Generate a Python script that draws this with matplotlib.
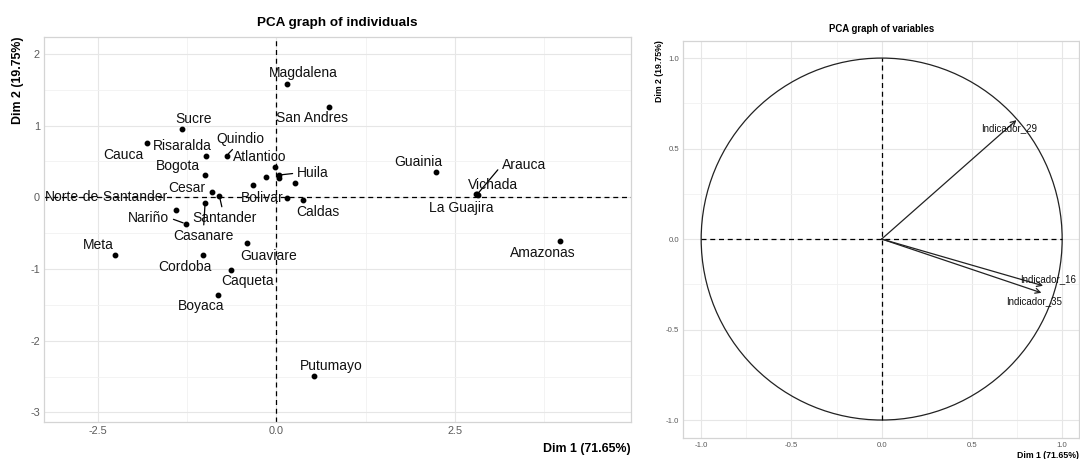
"""
PCA plots for the departmental indicators: individuals map and correlation circle.
"""

import numpy as np
import matplotlib.pyplot as plt
from matplotlib.patches import Circle

plt.rcParams['font.family'] = ['Liberation Sans', 'DejaVu Sans']
plt.rcParams['axes.unicode_minus'] = False

# Individuals (departments) on the first two components
departments = [
    'Magdalena', 'San Andres', 'Sucre', 'Cauca', 'Risaralda', 'Quindio',
    'Atlantico', 'Bogota', 'Huila', 'Cesar', 'Norte-de-Santander', 'Santander',
    'Bolivar', 'Caldas', 'Casanare', 'Nariño', 'Meta', 'Cordoba', 'Guaviare',
    'Caqueta', 'Boyaca', 'Putumayo', 'Amazonas', 'Guainia', 'Arauca',
    'Vichada', 'La Guajira', '', '', '', '',
]
dim1 = [
    0.15, 0.73, -1.32, -1.81, -0.99, -0.70,
    -0.02, -1.00, 0.03, -0.91, -1.41, -0.80,
    0.15, 0.37, -1.00, -1.27, -2.26, -1.03, -0.41,
    -0.64, -0.82, 0.53, 3.97, 2.23, 2.81,
    2.80, 2.82, 0.04, -0.15, -0.33, 0.26,
]
dim2 = [
    1.58, 1.26, 0.95, 0.76, 0.58, 0.58,
    0.42, 0.31, 0.31, 0.07, -0.18, 0.02,
    -0.01, -0.04, -0.08, -0.37, -0.80, -0.80, -0.64,
    -1.02, -1.36, -2.49, -0.61, 0.35, 0.04,
    0.05, 0.03, 0.27, 0.29, 0.17, 0.20,
]

# Variables: coordinates on the correlation circle
variables = ['Indicador_29', 'Indicador_16', 'Indicador_35']
var_dim1 = [0.747, 0.894, 0.885]
var_dim2 = [0.657, -0.258, -0.297]

DIM1_LABEL = 'Dim 1 (71.65%)'
DIM2_LABEL = 'Dim 2 (19.75%)'

# Label placement (pixel offsets from each point) and leader segments
LABEL_OFFSETS = {
    'Magdalena': (16.5, 11), 'San Andres': (-17, -11), 'Sucre': (11, 10),
    'Cauca': (-24, -12), 'Risaralda': (-23, 10), 'Quindio': (14, 17),
    'Atlantico': (-15, 10), 'Bogota': (-27, 9), 'Huila': (34, 2),
    'Cesar': (-25, 4), 'Norte-de-Santander': (-69, 13), 'Santander': (5, -22),
    'Bolivar': (-25, 0), 'Caldas': (15, -12), 'Casanare': (-2, -33),
    'Nariño': (-37, 6), 'Meta': (-17, 10), 'Cordoba': (-18, -12),
    'Guaviare': (21, -13), 'Caqueta': (16.5, -11), 'Boyaca': (-17, -11),
    'Putumayo': (16.5, 10), 'Amazonas': (-17.5, -11.6), 'Guainia': (-17, 10),
    'Arauca': (46.5, 29), 'Vichada': (16.5, 9), 'La Guajira': (-17, -13),
}
SEGMENTS = {
    'Quindio': (0.45, 0.15), 'Huila': (0.0, 0.5), 'Santander': (0.5, 0.5),
    'Casanare': (0.5, 0.5), 'Nariño': (1.0, 0.5), 'Arauca': (0.0, 0.5),
}
VAR_LABELS = {
    'Indicador_29': (0.705, 0.612),
    'Indicador_16': (0.923, -0.221),
    'Indicador_35': (0.843, -0.343),
}

TICK_COLOR = '#5a5a5a'
GRID_MAJOR = '#e6e6e6'
GRID_MINOR = '#f1f1f1'
BORDER = '#d4d4d4'


def style_panel(ax, tick_size):
    """ggplot-like minimal theme with a light panel border."""
    ax.set_axisbelow(True)
    ax.grid(True, which='major', color=GRID_MAJOR, linewidth=0.8)
    ax.grid(True, which='minor', color=GRID_MINOR, linewidth=0.6)
    ax.tick_params(which='both', length=0, labelsize=tick_size,
                   labelcolor=TICK_COLOR, pad=3)
    for spine in ax.spines.values():
        spine.set_color(BORDER)
        spine.set_linewidth(0.9)


fig = plt.figure(figsize=(10.8, 4.59), dpi=100)
W, H = 1080, 459

# ---- individuals ----
ax1 = fig.add_axes([44 / W, 1 - 422 / H, (631 - 44) / W, (422 - 37) / H])
ax1.set_xlim(-3.256, 4.965)
ax1.set_ylim(-3.134, 2.236)
ax1.set_xticks([-2.5, 0.0, 2.5])
ax1.set_xticklabels(['-2.5', '0.0', '2.5'])
ax1.set_xticks([-1.25, 1.25, 3.75], minor=True)
ax1.set_yticks([-3, -2, -1, 0, 1, 2])
ax1.set_yticks([-2.5, -1.5, -0.5, 0.5, 1.5], minor=True)
style_panel(ax1, 7.8)

ax1.axhline(0, color='black', linestyle=(0, (4, 3)), linewidth=0.9, zorder=2)
ax1.axvline(0, color='black', linestyle=(0, (4, 3)), linewidth=0.9, zorder=2)
ax1.plot(dim1, dim2, 'o', color='black', markersize=3.2, zorder=3)

for name, x, y in zip(departments, dim1, dim2):
    if not name:
        continue
    dx, dy = LABEL_OFFSETS[name]
    arrow = None
    if name in SEGMENTS:
        arrow = dict(arrowstyle='-', color='black', lw=0.9,
                     shrinkA=1, shrinkB=2, relpos=SEGMENTS[name])
    ax1.annotate(name, xy=(x, y), xytext=(dx, dy), textcoords='offset pixels',
                 ha='center', va='center', fontsize=10, color='#111111',
                 arrowprops=arrow, zorder=4)

ax1.set_title('PCA graph of individuals', fontsize=9.7, fontweight='bold', pad=8)
fig.text(631 / W, 1 - 449 / H, DIM1_LABEL, ha='right', va='center',
         fontsize=8.9, fontweight='bold')
fig.text(18 / W, 1 - 37 / H, DIM2_LABEL, ha='center', va='top', rotation=90,
         fontsize=8.9, fontweight='bold')

# ---- variables ----
ax2 = fig.add_axes([683.3 / W, 1 - 438.3 / H, (1079.3 - 683.3) / W, (438.3 - 40.7) / H])
ax2.set_xlim(-1.099, 1.095)
ax2.set_ylim(-1.101, 1.096)
ticks = [-1.0, -0.5, 0.0, 0.5, 1.0]
ax2.set_xticks(ticks)
ax2.set_yticks(ticks)
ax2.set_xticklabels([f'{t:.1f}' for t in ticks])
ax2.set_yticklabels([f'{t:.1f}' for t in ticks])
ax2.set_xticks([-0.75, -0.25, 0.25, 0.75], minor=True)
ax2.set_yticks([-0.75, -0.25, 0.25, 0.75], minor=True)
style_panel(ax2, 5.6)

ax2.add_patch(Circle((0, 0), 1.0, fill=False, color='#222222', linewidth=0.9))
ax2.plot([-1, 1], [0, 0], color='black', linestyle=(0, (4, 3)), linewidth=0.9)
ax2.plot([0, 0], [-1, 1], color='black', linestyle=(0, (4, 3)), linewidth=0.9)

for name, x, y in zip(variables, var_dim1, var_dim2):
    ax2.annotate('', xy=(x, y), xytext=(0, 0),
                 arrowprops=dict(arrowstyle='->,head_length=0.35,head_width=0.18',
                                 color='#222222', lw=0.9, shrinkA=0, shrinkB=0))
    lx, ly = VAR_LABELS[name]
    ax2.text(lx, ly, name, ha='center', va='center', fontsize=7, color='#111111')

ax2.set_title('PCA graph of variables', fontsize=6.9, fontweight='bold', pad=6)
fig.text(1079 / W, 1 - 455 / H, DIM1_LABEL, ha='right', va='center',
         fontsize=6.3, fontweight='bold')
fig.text(659 / W, 1 - 40 / H, DIM2_LABEL, ha='center', va='top', rotation=90,
         fontsize=6.3, fontweight='bold')

fig.savefig('out.png', dpi=100)
